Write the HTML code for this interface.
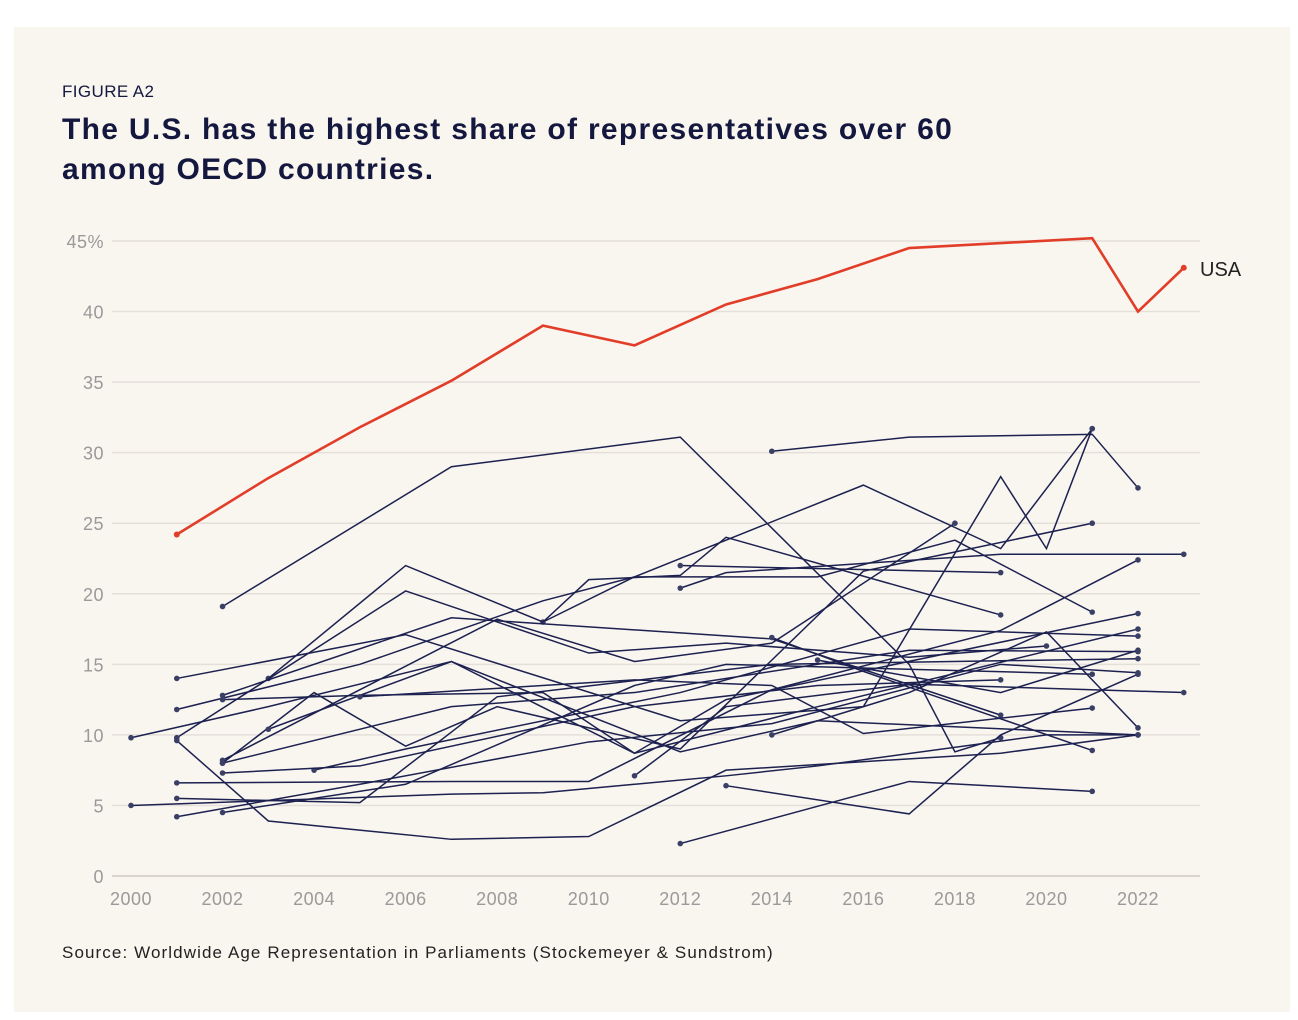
<!DOCTYPE html>
<html><head><meta charset="utf-8"><style>
body{margin:0;background:#fff;font-family:"Liberation Sans",sans-serif;}
#card{position:absolute;left:14px;top:27px;width:1276px;height:985px;background:#f9f5ef;}
.t{position:absolute;color:#14183f;}
</style></head><body>
<div id="card"></div>
<div class="t" style="left:62px;top:82px;font-size:17px;letter-spacing:0.4px;">FIGURE A2</div>
<div class="t" style="left:62px;top:110px;font-size:30px;font-weight:bold;line-height:40px;letter-spacing:1.3px;">The U.S. has the highest share of representatives over 60<br>among OECD countries.</div>
<div class="t" style="left:62px;top:943px;font-size:17px;color:#222;letter-spacing:1.1px;">Source: Worldwide Age Representation in Parliaments (Stockemeyer &amp; Sundstrom)</div>
<svg id="chart" width="1298" height="1020" style="position:absolute;left:0;top:0"></svg>
<script>
const yTicks=[0,5,10,15,20,25,30,35,40,45];
const xTicks=[2000,2002,2004,2006,2008,2010,2012,2014,2016,2018,2020,2022];
const usaYears=[2001,2003,2005,2007,2009,2011,2013,2015,2017,2021,2022,2023];
const usaValues=[24.2,28.2,31.8,35.1,39,37.6,40.5,42.3,44.5,45.2,40,43.1];
const countrySeries=[
[[2002,19.1],[2007,29],[2012,31.1],[2017,15],[2018,8.8],[2019,9.8]],
[[2014,30.1],[2017,31.1],[2021,31.3],[2022,27.5]],
[[2009,18],[2011,21.2],[2016,27.7],[2019,23.2],[2021,31.7]],
[[2003,14],[2006,22],[2009,18],[2010,21],[2012,21.3],[2013,24],[2019,18.5]],
[[2001,14],[2006,17.1],[2012,11],[2016,12],[2019,28.3],[2020,23.2],[2021,31.7]],
[[2001,11.8],[2005,15],[2009,19.5],[2011,21.2],[2015,21.2],[2018,23.8],[2021,18.7]],
[[2001,9.8],[2006,20.2],[2010,15.8],[2013,16.5],[2017,15.5],[2020,16.3]],
[[2002,12.8],[2007,18.3],[2014,16.8],[2019,11.4]],
[[2002,12.5],[2005,12.8],[2009,13],[2011,8.7],[2015,12],[2022,17.5]],
[[2000,9.8],[2003,12],[2007,15.2],[2011,8.7],[2013,12.5],[2022,18.6]],
[[2001,9.6],[2003,3.9],[2007,2.6],[2010,2.8],[2013,7.5],[2019,8.7],[2022,10]],
[[2002,8],[2007,12],[2011,13],[2017,16],[2022,15.9]],
[[2002,8.2],[2008,18.2],[2011,15.2],[2014,16.5],[2018,25]],
[[2002,8],[2004,13],[2006,9.2],[2008,12],[2012,9],[2016,21.6],[2021,25]],
[[2003,10.4],[2007,15.2],[2012,8.8],[2015,11],[2022,10]],
[[2004,7.5],[2006,9],[2012,13],[2017,17.5],[2022,17]],
[[2002,7.3],[2005,7.8],[2011,12],[2015,13.5],[2019,13.9]],
[[2001,6.6],[2007,6.7],[2010,6.7],[2014,13.2],[2019,17.4],[2022,22.4]],
[[2001,5.5],[2005,5.2],[2008,12.7],[2014,15],[2020,15.3],[2022,15.4]],
[[2000,5],[2007,5.8],[2009,5.9],[2011,6.5],[2013,7.1],[2015,7.8],[2020,10],[2022,10]],
[[2001,4.2],[2005,6.5],[2010,9.5],[2014,10.8],[2019,15],[2022,14.4]],
[[2002,4.5],[2006,6.5],[2011,13.5],[2013,15],[2021,14.3]],
[[2012,2.3],[2017,6.7],[2021,6]],
[[2013,6.4],[2017,4.4],[2019,10],[2022,14.3]],
[[2012,22],[2019,21.5]],
[[2012,20.4],[2013,21.5],[2019,22.8],[2023,22.8]],
[[2011,7.1],[2013,12],[2017,13.6],[2023,13]],
[[2014,16.9],[2016,14.5],[2021,8.9]],
[[2014,10],[2017,13],[2020,17.3],[2022,10.5]],
[[2005,12.7],[2011,13.9],[2014,13.5],[2016,10.1],[2021,11.9]],
[[2015,15.3],[2019,13],[2022,16]]
];
const NS='http://www.w3.org/2000/svg';
const svg=document.getElementById('chart');
const X=y=>131+(y-2000)*(1138-131)/22;
const Y=v=>876-v*(876-241)/45;
function mk(tag,attrs){const e=document.createElementNS(NS,tag);for(const k in attrs)e.setAttribute(k,attrs[k]);svg.appendChild(e);return e;}
yTicks.forEach(t=>{
  const l=mk('line',{x1:112,x2:1200,y1:Y(t),y2:Y(t),stroke:t===0?'#cfcac4':'#e4dfd9','stroke-width':1.5});
  
  
  const tx=mk('text',{x:104,y:Y(t)+7,'text-anchor':'end','font-size':18,fill:'#9a9a9a','font-family':'Liberation Sans, sans-serif','letter-spacing':0.5});
  tx.textContent=t===45?'45%':t;
  
  
});
xTicks.forEach(t=>{
  const tx=mk('text',{x:X(t),y:905,'text-anchor':'middle','font-size':18,fill:'#9a9a9a','font-family':'Liberation Sans, sans-serif','letter-spacing':0.5});
  tx.textContent=t;
  
  
});
countrySeries.forEach((s,i)=>{
  const p=mk('polyline',{points:s.map(d=>X(d[0])+','+Y(d[1])).join(' '),fill:'none',stroke:'#1c2150','stroke-width':1.5});
  
  
  [s[0],s[s.length-1]].forEach(d=>{
    const c=mk('circle',{cx:X(d[0]),cy:Y(d[1]),r:2.8,fill:'#3a3f66'});
    
    
  });
});
const u=mk('polyline',{points:usaYears.map((y,i)=>X(y)+','+Y(usaValues[i])).join(' '),fill:'none',stroke:'#e23d28','stroke-width':2.6});


[0,usaYears.length-1].forEach(i=>{
  const c=mk('circle',{cx:X(usaYears[i]),cy:Y(usaValues[i]),r:3,fill:'#e23d28'});
  
  
});
const lab=mk('text',{x:1200,y:Y(usaValues[usaValues.length-1])+8,'font-size':20,fill:'#222','font-family':'Liberation Sans, sans-serif'});
lab.textContent='USA';


</script>
</body></html>
